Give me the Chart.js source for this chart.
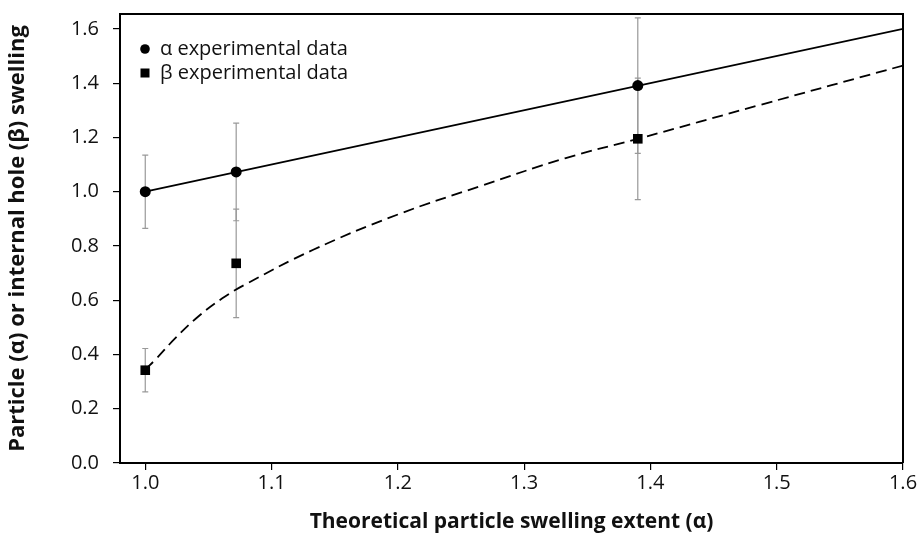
<!DOCTYPE html>
<html>
<head>
<meta charset="utf-8">
<script src="https://cdn.jsdelivr.net/npm/chart.js@4.4.0/dist/chart.umd.min.js"></script>
<style>
  html, body { margin: 0; padding: 0; background: #fff; }
  #wrap { width: 919px; height: 537px; }
</style>
</head>
<body>
<div id="wrap"><canvas id="swellChart"></canvas></div>
<script>
// measured points
const expX = [1.0, 1.072, 1.39];
const alphaY = [1.0, 1.073, 1.391];
const alphaErr = [0.135, 0.18, 0.25];
const betaY = [0.342, 0.736, 1.195];
const betaErr = [0.08, 0.2, 0.224];

// model curves
const alphaLineX = [1.0, 1.6];
const alphaLineY = [1.0, 1.6];
const betaLineX = [1.0, 1.008, 1.024, 1.042, 1.061, 1.078, 1.133, 1.2, 1.265, 1.333, 1.39, 1.487, 1.6];
const betaLineY = [0.345, 0.381, 0.461, 0.54, 0.607, 0.655, 0.786, 0.916, 1.02, 1.124, 1.195, 1.32, 1.465];

// axes
const xTicks = [1.0, 1.1, 1.2, 1.3, 1.4, 1.5, 1.6];
const yTicks = [0.0, 0.2, 0.4, 0.6, 0.8, 1.0, 1.2, 1.4, 1.6];
const legendLabels = ['\u03b1 experimental data', '\u03b2 experimental data'];

const FONT = "'Open Sans', sans-serif";
const TEXT = '#111';

function toPoints(xs, ys) {
    return xs.map((x, i) => ({ x: x, y: ys[i] }));
}

// error bars under the markers
const errorBars = {
    id: 'errorBars',
    beforeDatasetsDraw(chart) {
        const { ctx, scales: { x, y } } = chart;
        ctx.save();
        ctx.strokeStyle = '#999';
        ctx.lineWidth = 1.2;
        const sets = [[alphaY, alphaErr], [betaY, betaErr]];
        sets.forEach(([vals, errs]) => {
            vals.forEach((v, i) => {
                const px = x.getPixelForValue(expX[i]);
                const top = y.getPixelForValue(v + errs[i]);
                const bot = y.getPixelForValue(v - errs[i]);
                ctx.beginPath();
                ctx.moveTo(px, top); ctx.lineTo(px, bot);
                ctx.moveTo(px - 3, top); ctx.lineTo(px + 3, top);
                ctx.moveTo(px - 3, bot); ctx.lineTo(px + 3, bot);
                ctx.stroke();
            });
        });
        ctx.restore();
    }
};

// frame on top/right and the legend inside the plot
const frameAndLegend = {
    id: 'frameAndLegend',
    afterDraw(chart) {
        const { ctx, chartArea: a } = chart;
        ctx.save();
        ctx.strokeStyle = '#000';
        ctx.lineWidth = 2;
        ctx.beginPath();
        ctx.moveTo(a.left, a.top);
        ctx.lineTo(a.right, a.top);
        ctx.lineTo(a.right, a.bottom);
        ctx.stroke();

        ctx.fillStyle = '#000';
        const lx = a.left + 25;
        const ly = a.top + 35;
        ctx.beginPath();
        ctx.arc(lx, ly, 4.8, 0, Math.PI * 2);
        ctx.fill();
        ctx.fillRect(lx - 4.5, ly + 24 - 4.5, 9, 9);

        ctx.fillStyle = TEXT;
        ctx.font = '20px ' + FONT;
        ctx.textBaseline = 'middle';
        ctx.fillText(legendLabels[0], lx + 15, ly);
        ctx.fillText(legendLabels[1], lx + 15, ly + 24);
        ctx.restore();
    }
};

const ctx = document.getElementById('swellChart').getContext('2d');
const swellChart = new Chart(ctx, {
    type: 'scatter',
    data: {
        datasets: [
            {
                label: legendLabels[0],
                data: toPoints(expX, alphaY),
                pointStyle: 'circle',
                pointRadius: 5.5,
                backgroundColor: '#000',
                borderWidth: 0
            },
            {
                label: legendLabels[1],
                data: toPoints(expX, betaY),
                pointStyle: 'rect',
                pointRadius: 6.8,
                backgroundColor: '#000',
                borderWidth: 0
            },
            {
                label: 'alpha model',
                data: toPoints(alphaLineX, alphaLineY),
                showLine: true,
                pointRadius: 0,
                borderColor: '#000',
                borderWidth: 1.8
            },
            {
                label: 'beta model',
                data: toPoints(betaLineX, betaLineY),
                showLine: true,
                pointRadius: 0,
                borderColor: '#000',
                borderWidth: 1.8,
                borderDash: [11, 6],
                tension: 0.4
            }
        ]
    },
    options: {
        responsive: true,
        maintainAspectRatio: false,
        animation: false,
        layout: { padding: { top: 14, right: 16, left: 0, bottom: 0 } },
        plugins: {
            legend: { display: false },
            tooltip: { enabled: false }
        },
        scales: {
            x: {
                type: 'linear',
                min: 0.98,
                max: 1.6,
                afterBuildTicks: s => { s.ticks = xTicks.map(v => ({ value: v })); },
                afterFit: s => { s.height = 74; s.paddingLeft = 0; s.paddingRight = 0; },
                ticks: {
                    callback: v => v.toFixed(1),
                    color: TEXT,
                    font: { family: FONT, size: 20 },
                    padding: 1,
                    maxRotation: 0
                },
                grid: { drawOnChartArea: false, drawTicks: true, tickLength: 7, color: '#000', lineWidth: 1.2 },
                border: { color: '#000', width: 2 },
                title: {
                    display: true,
                    text: 'Theoretical particle swelling extent (\u03b1)',
                    color: TEXT,
                    font: { family: FONT, size: 21, weight: 'bold' },
                    padding: { top: 0, bottom: 2 }
                }
            },
            y: {
                min: 0,
                max: 1.655,
                afterBuildTicks: s => { s.ticks = yTicks.map(v => ({ value: v })); },
                afterFit: s => { s.width = 120; s.paddingTop = 0; s.paddingBottom = 0; },
                ticks: {
                    callback: v => v.toFixed(1),
                    color: TEXT,
                    font: { family: FONT, size: 20 },
                    padding: 14
                },
                grid: { drawOnChartArea: false, drawTicks: true, tickLength: 7, color: '#000', lineWidth: 1.2 },
                border: { color: '#000', width: 2 },
                title: {
                    display: true,
                    text: 'Particle (\u03b1) or internal hole (\u03b2) swelling',
                    color: TEXT,
                    font: { family: FONT, size: 22, weight: 'bold' },
                    padding: { top: 5, bottom: 0 }
                }
            }
        }
    },
    plugins: [errorBars, frameAndLegend]
});
</script>
</body>
</html>
